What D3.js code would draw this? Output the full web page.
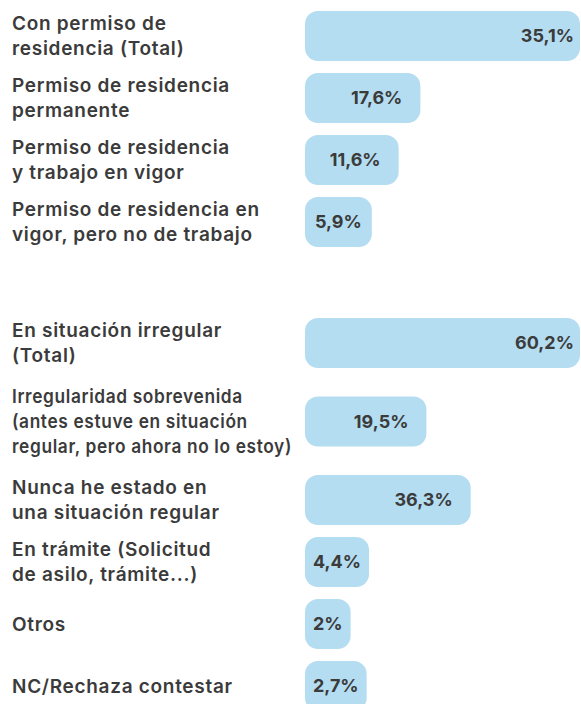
<!DOCTYPE html>
<html>
<head>
<meta charset="utf-8">
<script src="https://cdn.jsdelivr.net/npm/d3@7"></script>
<style>
  body { margin: 0; background: #fff; }
  svg { display: block; font-family: Inter, "Open Sans", sans-serif; }
</style>
</head>
<body>
<div id="chart"></div>
<script>
// data
const categories = [
  "Con permiso de\nresidencia (Total)",
  "Permiso de residencia\npermanente",
  "Permiso de residencia\ny trabajo en vigor",
  "Permiso de residencia en\nvigor, pero no de trabajo",
  "En situación irregular\n(Total)",
  "Irregularidad sobrevenida\n(antes estuve en situación\nregular, pero ahora no lo estoy)",
  "Nunca he estado en\nuna situación regular",
  "En trámite (Solicitud\nde asilo, trámite...)",
  "Otros",
  "NC/Rechaza contestar"
]
const values = [35.1, 17.6, 11.6, 5.9, 60.2, 19.5, 36.3, 4.4, 2, 2.7]
const totals = [true, false, false, false, true, false, false, false, false, false]
const groups = [0, 0, 0, 0, 1, 1, 1, 1, 1, 1]

let width = 581
let height = 704
let labelX = 12
let labelMaxW = 280
let barX0 = 305
let barX1 = 580
let barH = 50
let lineH = 25
let rowGap = 12
let groupGap = 59
let textColor = '#3b3b3b'
let barColor = '#b4ddf1'

let fmt = d3.formatLocale({ decimal: ',', thousands: '.', grouping: [3], currency: ['', '€'] })
  .format('.1~f')

let svg = d3.select('#chart').append('svg')
  .attr('width', width)
  .attr('height', height)

// stack the rows, taller labels get taller rows, groups get an extra gap
let y = 11
let rows = categories.map((c, i) => {
  let lines = c.split('\n')
  if (i > 0) y += groups[i] !== groups[i - 1] ? groupGap + rowGap : rowGap
  let ext = Math.max(barH, lines.length * lineH + (lines.length - 2) * 8)
  let r = { lines, value: values[i], total: totals[i], mid: y + ext / 2 }
  y += ext
  return r
})

// bar length scale (sqrt of the share)
let x = d3.scaleSqrt()
  .domain([0, 100])
  .range([0, barX1 - barX0])

let row = svg.selectAll('g.row')
  .data(rows)
  .enter()
  .append('g')
  .attr('class', 'row')
  .attr('transform', d => `translate(0, ${d.mid})`)

// labels
let label = row.append('text')
  .attr('x', labelX)
  .attr('fill', textColor)
  .style('font-size', '19px')
  .style('font-weight', 600)
  .style('letter-spacing', '0.7px')

label.selectAll('tspan')
  .data(d => d.lines.map((t, j) => ({ t, j, n: d.lines.length })))
  .enter()
  .append('tspan')
  .attr('x', labelX)
  .attr('y', d => (d.j - (d.n - 1) / 2) * lineH)
  .attr('dy', '0.35em')
  .text(d => d.t)

// squeeze labels that are wider than the label column
label.each(function () {
  let spans = d3.select(this).selectAll('tspan').nodes()
  let widest = d3.max(spans, s => s.getComputedTextLength())
  if (widest > labelMaxW) {
    let k = labelMaxW / widest
    spans.forEach(s => {
      s.setAttribute('textLength', s.getComputedTextLength() * k)
      s.setAttribute('lengthAdjust', 'spacingAndGlyphs')
    })
  }
})

// value text first, so the bar can fit around it
let val = row.append('text')
  .attr('fill', textColor)
  .attr('text-anchor', 'end')
  .attr('dy', '0.36em')
  .style('font-size', '18px')
  .style('font-weight', 700)
  .text(d => fmt(d.value) + '%')

val.each(function (d) {
  let tw = this.getComputedTextLength()
  d.w = d.total ? x.range()[1] : Math.max(x(d.value), tw + 16)
  let pad = d.total ? 6 : Math.min(18, (d.w - tw) / 2)
  d3.select(this).attr('x', barX0 + d.w - pad)
})

row.insert('rect', 'text:last-of-type')
  .attr('x', barX0)
  .attr('y', -barH / 2)
  .attr('width', d => d.w)
  .attr('height', barH)
  .attr('rx', 13)
  .attr('fill', barColor)
</script>
</body>
</html>
